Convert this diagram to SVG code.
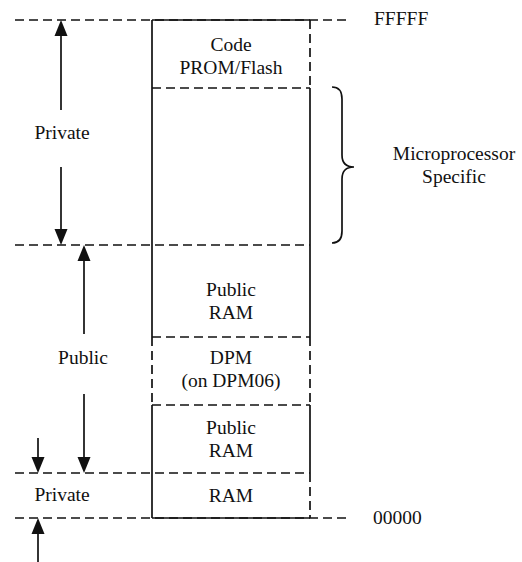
<svg xmlns="http://www.w3.org/2000/svg" width="522" height="562" viewBox="0 0 522 562">
<style>
text{font-family:"Liberation Serif","Times New Roman",serif;font-size:19.5px;fill:#111}
.c{text-anchor:middle}
.d{stroke:#111;stroke-width:1.7;stroke-dasharray:9,5;fill:none}
.s{stroke:#111;stroke-width:1.7;fill:none}
.a{stroke:#111;stroke-width:1.7;fill:none}
.h{fill:#111;stroke:none}
</style>
<rect width="522" height="562" fill="#fff"/>
<g id="guides">
<line class="d" x1="15" y1="20" x2="350" y2="20"/>
<line class="d" x1="15" y1="245" x2="310" y2="245"/>
<line class="d" x1="15" y1="473" x2="310" y2="473"/>
<line class="d" x1="15" y1="518" x2="350" y2="518"/>
</g>
<g id="memory-box">
<line class="s" x1="152" y1="20" x2="310" y2="20"/>
<line class="s" x1="152" y1="518" x2="310" y2="518"/>
<line class="s" x1="152" y1="20" x2="152" y2="337"/>
<line class="d" x1="152" y1="337" x2="152" y2="405"/>
<line class="s" x1="152" y1="405" x2="152" y2="518"/>
<line class="d" x1="310" y1="20" x2="310" y2="88"/>
<line class="s" x1="310" y1="88" x2="310" y2="337"/>
<line class="d" x1="310" y1="337" x2="310" y2="405"/>
<line class="s" x1="310" y1="405" x2="310" y2="473"/>
<line class="d" x1="310" y1="473" x2="310" y2="518"/>
<line class="d" x1="152" y1="88" x2="310" y2="88"/>
<line class="d" x1="152" y1="337" x2="310" y2="337"/>
<line class="d" x1="152" y1="405" x2="310" y2="405"/>
</g>
<g id="code">
<text class="c" x="231" y="51">Code</text>
<text class="c" x="231" y="74">PROM/Flash</text>
</g>
<g id="public-ram-1">
<text class="c" x="231" y="296">Public</text>
<text class="c" x="231" y="319">RAM</text>
</g>
<g id="dpm">
<text class="c" x="231" y="364">DPM</text>
<text class="c" x="231" y="387">(on DPM06)</text>
</g>
<g id="public-ram-2">
<text class="c" x="231" y="434">Public</text>
<text class="c" x="231" y="457">RAM</text>
</g>
<g id="ram">
<text class="c" x="231" y="502">RAM</text>
</g>
<g id="addresses">
<text x="374" y="25">FFFFF</text>
<text x="373" y="524">00000</text>
</g>
<g id="micro-specific">
<path class="s" d="M332,87 Q342,87 342,99 L342,155 Q342,167 354,167 Q342,167 342,179 L342,231 Q342,243 332,243"/>
<text class="c" x="454" y="160">Microprocessor</text>
<text class="c" x="454" y="183">Specific</text>
</g>
<g id="labels">
<text class="c" x="62" y="139">Private</text>
<text class="c" x="83" y="364">Public</text>
<text class="c" x="62" y="501">Private</text>
</g>
<g id="connectors">
<line class="a" x1="61" y1="110" x2="61" y2="34"/>
<polygon class="h" points="61,20 54.5,36 67.5,36"/>
<line class="a" x1="61" y1="167" x2="61" y2="231"/>
<polygon class="h" points="61,245 54.5,229 67.5,229"/>
<line class="a" x1="84" y1="334" x2="84" y2="259"/>
<polygon class="h" points="84,245 77.5,261 90.5,261"/>
<line class="a" x1="84" y1="394" x2="84" y2="459"/>
<polygon class="h" points="84,473 77.5,457 90.5,457"/>
<line class="a" x1="38" y1="438" x2="38" y2="459"/>
<polygon class="h" points="38,473 31.5,457 44.5,457"/>
<line class="a" x1="38" y1="562" x2="38" y2="532"/>
<polygon class="h" points="38,518 31.5,534 44.5,534"/>
</g>
</svg>
